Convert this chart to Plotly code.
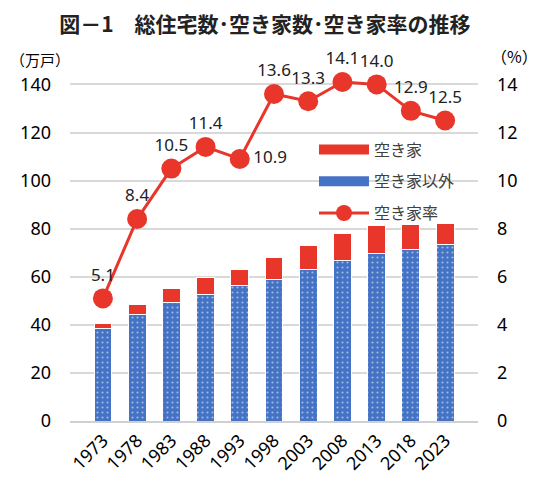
import plotly.graph_objects as go

# data
years = ["1973", "1978", "1983", "1988", "1993", "1998", "2003", "2008", "2013", "2018", "2023"]
other_homes = [38.6, 44.4, 49.3, 52.8, 56.2, 58.7, 63.1, 66.9, 69.8, 71.2, 73.4]   # 空き家以外 (万戸)
vacant_homes = [2.1, 4.2, 5.8, 7.0, 6.9, 9.3, 9.9, 11.1, 11.5, 10.6, 8.9]          # 空き家 (万戸)
vacancy_rate = [5.1, 8.4, 10.5, 11.4, 10.9, 13.6, 13.3, 14.1, 14.0, 12.9, 12.5]    # 空き家率 (%)
rate_labels = [f"{v:.1f}" for v in vacancy_rate]
rate_label_pos = ["top center"] * 4 + ["middle right"] + ["top center"] * 6

RED = "#E8362A"
BLUE = "#4472C4"
FONT = "Noto Sans CJK JP"

fig = go.Figure()

fig.add_trace(go.Bar(
    x=years, y=other_homes, name="空き家以外", showlegend=False,
    marker=dict(color=BLUE, line=dict(color="white", width=1),
                pattern=dict(shape=".", fgcolor="white", bgcolor=BLUE,
                             size=5, solidity=0.15)),
))
fig.add_trace(go.Bar(
    x=years, y=vacant_homes, name="空き家", showlegend=False,
    marker=dict(color=RED, line=dict(color="white", width=1)),
))
fig.add_trace(go.Scatter(
    x=years, y=vacancy_rate, name="空き家率", yaxis="y2",
    legendrank=3, legendgroup="c",
    mode="lines+markers+text",
    line=dict(color=RED, width=3),
    marker=dict(color=RED, size=20),
    text=rate_labels, textposition=rate_label_pos,
    textfont=dict(family="Noto Sans", size=17, color="#222222"),
    cliponaxis=False,
))

# wide rectangle legend keys for the bars, like the original
fig.add_trace(go.Scatter(x=[None], y=[None], mode="lines", name="空き家",
                         line=dict(color=RED, width=10), legendrank=1, legendgroup="a"))
fig.add_trace(go.Scatter(x=[None], y=[None], mode="lines", name="空き家以外",
                         line=dict(color=BLUE, width=10), legendrank=2, legendgroup="b"))

# the page puts the figure 8px in from the top-left, so the figure is 8px smaller
fig.update_layout(
    width=542, height=486,
    margin=dict(l=62, r=72, t=62, b=73),
    paper_bgcolor="white", plot_bgcolor="white",
    barmode="stack", bargap=0.48,
    font=dict(family=FONT, color="black"),
    title=dict(text="<b>図－1　総住宅数･空き家数･空き家率の推移</b>",
               x=0.474, xanchor="center", y=0.965, yanchor="middle",
               font=dict(family=FONT, size=21, color="#222222")),
    xaxis=dict(tickangle=-45, tickfont=dict(family="Noto Sans", size=18),
               showline=True, linecolor="#D0D0D0", linewidth=2, ticks="",
               automargin=False),
    yaxis=dict(range=[0, 146], tickvals=[0, 20, 40, 60, 80, 100, 120, 140],
               showgrid=True, gridcolor="#D9D9D9", gridwidth=1.5,
               zeroline=False, tickfont=dict(family="Noto Sans", size=18),
               ticklabelstandoff=18, automargin=False),
    yaxis2=dict(range=[0, 14.6], tickvals=[0, 2, 4, 6, 8, 10, 12, 14],
                overlaying="y", side="right", showgrid=False,
                zeroline=False, tickfont=dict(family="Noto Sans", size=18),
                ticklabelstandoff=18, automargin=False),
    legend=dict(x=0.598, y=0.822, xanchor="left", yanchor="top",
                font=dict(family=FONT, size=16, color="#404040"),
                bgcolor="rgba(0,0,0,0)", tracegroupgap=8, itemwidth=50),
    showlegend=True,
)

fig.add_annotation(text="（万戸）", xref="paper", yref="paper", x=-0.0735, y=1.031,
                   xanchor="center", yanchor="middle", showarrow=False,
                   font=dict(family=FONT, size=15, color="black"))
fig.add_annotation(text="（%）", xref="paper", yref="paper", x=1.09, y=1.04,
                   xanchor="center", yanchor="middle", showarrow=False,
                   font=dict(family=FONT, size=16, color="black"))

fig.write_html("out.html")
